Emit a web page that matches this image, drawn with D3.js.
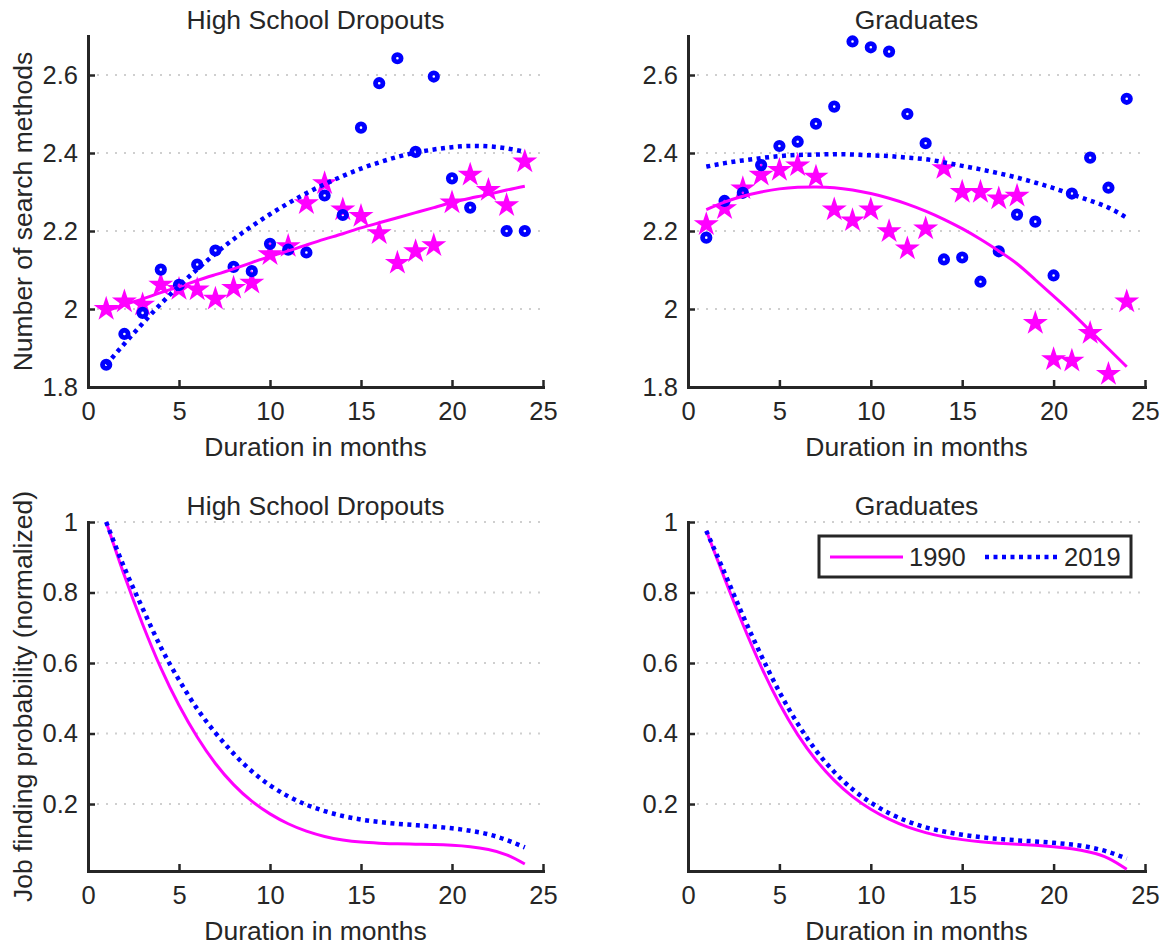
<!DOCTYPE html>
<html>
<head>
<meta charset="utf-8">
<script src="https://cdn.jsdelivr.net/npm/d3@7"></script>
<style>
  body { margin: 0; background: #fff; }
  text { font-family: "Liberation Sans", Arial, Helvetica, sans-serif; fill: #262626; }
</style>
</head>
<body>
<div id="container"></div>
<script>
let w = 1168;
let h = 949;

// months on the x axis
let months = [1,2,3,4,5,6,7,8,9,10,11,12,13,14,15,16,17,18,19,20,21,22,23,24];
let xTicks = [0,5,10,15,20,25];
let searchTicks = [1.8,2,2.2,2.4,2.6];
let jobTicks = [0.2,0.4,0.6,0.8,1];
let years = ["1990","2019"];

// number of search methods, high school dropouts
let dropStars1990 = [2.000,2.019,2.011,2.062,2.051,2.050,2.026,2.054,2.067,2.140,2.161,2.271,
                     2.322,2.255,2.238,2.194,2.118,2.148,2.163,2.273,2.344,2.305,2.266,2.378];
let dropCircles2019 = [1.857,1.936,1.990,2.101,2.062,2.114,2.150,2.108,2.097,2.167,2.152,2.145,
                       2.291,2.241,2.465,2.579,2.643,2.403,2.596,2.335,2.260,null,2.200,2.200];
let dropFit1990 = [1.995,2.011,2.026,2.042,2.057,2.073,2.088,2.103,2.119,2.135,2.149,2.164,
                   2.179,2.193,2.208,2.221,2.234,2.247,2.260,2.273,2.284,2.294,2.305,2.315];
let dropFit2019 = [1.857,1.911,1.963,2.013,2.059,2.102,2.142,2.179,2.212,2.243,2.271,2.297,
                   2.320,2.341,2.360,2.376,2.390,2.401,2.409,2.415,2.418,2.417,2.412,2.403];

// number of search methods, graduates
let gradStars1990 = [2.217,2.258,2.309,2.344,2.356,2.368,2.339,2.255,2.227,2.255,2.199,2.155,
                     2.206,2.361,2.300,2.300,2.283,2.290,1.964,1.871,1.867,1.938,1.833,2.019];
let gradCircles2019 = [2.183,2.277,2.298,2.369,2.418,2.429,2.475,2.519,2.686,2.671,2.660,2.500,
                       2.425,2.127,2.132,2.070,2.148,2.242,2.224,2.086,2.296,2.388,2.311,2.539];
let gradFit1990 = [2.255,2.274,2.289,2.300,2.308,2.312,2.313,2.311,2.305,2.296,2.284,2.269,
                   2.251,2.230,2.206,2.179,2.149,2.116,2.075,2.033,1.990,1.944,1.898,1.852];
let gradFit2019 = [2.365,2.374,2.381,2.387,2.392,2.395,2.396,2.397,2.396,2.394,2.392,2.388,
                   2.384,2.376,2.367,2.358,2.348,2.337,2.324,2.310,2.294,2.278,2.260,2.234];

// job finding probability (normalized)
let dropJob1990 = [1.000,0.848,0.710,0.586,0.480,0.390,0.315,0.255,0.208,0.172,0.144,0.123,
                   0.108,0.098,0.092,0.089,0.087,0.086,0.085,0.083,0.079,0.071,0.056,0.030];
let dropJob2019 = [1.000,0.870,0.755,0.645,0.552,0.470,0.402,0.343,0.293,0.253,0.222,0.198,
                   0.180,0.166,0.156,0.149,0.144,0.140,0.136,0.131,0.124,0.114,0.098,0.077];
let gradJob1990 = [0.975,0.840,0.710,0.590,0.485,0.397,0.325,0.267,0.221,0.185,0.157,0.135,
                   0.119,0.107,0.099,0.093,0.089,0.086,0.083,0.079,0.073,0.063,0.046,0.015];
let gradJob2019 = [0.975,0.856,0.735,0.622,0.518,0.428,0.352,0.291,0.242,0.204,0.174,0.151,
                   0.134,0.122,0.113,0.106,0.101,0.097,0.094,0.090,0.085,0.077,0.064,0.045];

let magenta = "#ff00ff";
let blue = "#0000ff";
let axisColor = "#262626";

let viz = d3.select("#container")
  .append("svg")
    .attr("width", w)
    .attr("height", h)
    .style("background-color", "white");

function fmt(d){
  return String(+d.toFixed(1));
}

function drawPanel(p){
  let xScale = d3.scaleLinear().domain([0,25]).range([p.left, p.right]);
  let yScale = d3.scaleLinear().domain(p.yDomain).range([p.bottom, p.top]);
  let g = viz.append("g");

  // dotted horizontal grid
  g.selectAll(".grid").data(p.yTicks.filter(function(t){ return t > p.yDomain[0] + 0.05; }))
    .enter().append("line")
      .attr("x1", p.left).attr("x2", p.right + 2)
      .attr("y1", function(d){ return yScale(d); })
      .attr("y2", function(d){ return yScale(d); })
      .attr("stroke", "#cfcfcf")
      .attr("stroke-width", 2)
      .attr("stroke-dasharray", "2,7");

  // x axis
  let xAxis = d3.axisBottom(xScale).tickValues(xTicks).tickSizeInner(-7).tickSizeOuter(0).tickPadding(15);
  let xg = g.append("g").attr("transform", "translate(0," + p.bottom + ")").call(xAxis);
  // y axis
  let yAxis = d3.axisLeft(yScale).tickValues(p.yTicks).tickFormat(fmt).tickSizeInner(-7).tickSizeOuter(0).tickPadding(10);
  let yg = g.append("g").attr("transform", "translate(" + p.left + ",0)").call(yAxis);

  [xg, yg].forEach(function(a){
    a.select(".domain").attr("stroke", axisColor).attr("stroke-width", 3).attr("stroke-linecap", "square");
    a.selectAll(".tick line").attr("stroke", axisColor).attr("stroke-width", 2.5);
    a.selectAll(".tick text").attr("fill", axisColor).style("font-size", "25.5px")
      .style("font-family", "'Liberation Sans', Arial, sans-serif");
  });

  // title and labels
  g.append("text").attr("x", (p.left + p.right) / 2).attr("y", p.top - 7)
    .attr("text-anchor", "middle").style("font-size", "26.5px").text(p.title);
  g.append("text").attr("x", (p.left + p.right) / 2).attr("y", p.bottom + 69)
    .attr("text-anchor", "middle").style("font-size", "26.5px").text("Duration in months");
  if(p.ylabel){
    g.append("text")
      .attr("transform", "translate(32," + (p.top + p.bottom) / 2 + ") rotate(-90)")
      .attr("text-anchor", "middle").style("font-size", "26.5px").text(p.ylabel);
  }

  // scatter points
  if(p.stars){
    g.selectAll(".star").data(p.stars.map(function(v, i){ return {x: months[i], y: v}; }))
      .enter().append("path")
        .attr("d", d3.symbol(d3.symbolStar).size(125))
        .attr("transform", function(d){ return "translate(" + xScale(d.x) + "," + yScale(d.y) + ")"; })
        .attr("fill", magenta)
        .attr("stroke", magenta)
        .attr("stroke-width", 1.6)
        .attr("stroke-linejoin", "miter");
  }
  if(p.circles){
    g.selectAll(".circ").data(p.circles.map(function(v, i){ return {x: months[i], y: v}; })
        .filter(function(d){ return d.y != null; }))
      .enter().append("circle")
        .attr("cx", function(d){ return xScale(d.x); })
        .attr("cy", function(d){ return yScale(d.y); })
        .attr("r", 3.7)
        .attr("fill", "none")
        .attr("stroke", blue)
        .attr("stroke-width", 4.8);
  }

  let line = d3.line()
    .x(function(d, i){ return xScale(months[i]); })
    .y(function(d){ return yScale(d); })
    .curve(d3.curveNatural);

  g.append("path").datum(p.line1990).attr("d", line)
    .attr("fill", "none").attr("stroke", magenta).attr("stroke-width", 3);
  g.append("path").datum(p.line2019).attr("d", line)
    .attr("fill", "none").attr("stroke", blue).attr("stroke-width", 4.5)
    .attr("stroke-dasharray", "4,4.5");
}

let topY = 36, topB = 387, botY = 522, botB = 871;
let leftL = 88, leftR = 543, rightL = 688, rightR = 1145;

drawPanel({left: leftL, right: leftR, top: topY, bottom: topB, yDomain: [1.8, 2.7], yTicks: searchTicks,
  title: "High School Dropouts", ylabel: "Number of search methods",
  stars: dropStars1990, circles: dropCircles2019, line1990: dropFit1990, line2019: dropFit2019});
drawPanel({left: rightL, right: rightR, top: topY, bottom: topB, yDomain: [1.8, 2.7], yTicks: searchTicks,
  title: "Graduates", ylabel: null,
  stars: gradStars1990, circles: gradCircles2019, line1990: gradFit1990, line2019: gradFit2019});
drawPanel({left: leftL, right: leftR, top: botY, bottom: botB, yDomain: [0.01, 1], yTicks: jobTicks,
  title: "High School Dropouts", ylabel: "Job finding probability (normalized)",
  line1990: dropJob1990, line2019: dropJob2019});
drawPanel({left: rightL, right: rightR, top: botY, bottom: botB, yDomain: [0.01, 1], yTicks: jobTicks,
  title: "Graduates", ylabel: null,
  line1990: gradJob1990, line2019: gradJob2019});

// legend in the lower right panel
let legend = viz.append("g").attr("class", "legend");
legend.append("rect").attr("x", 819).attr("y", 536).attr("width", 312).attr("height", 41)
  .attr("fill", "white").attr("stroke", axisColor).attr("stroke-width", 3);
let legendItems = [
  {label: years[0], color: magenta, dash: null, width: 3, x: 830},
  {label: years[1], color: blue, dash: "4,4.5", width: 4.5, x: 985}
];
legendItems.forEach(function(item){
  legend.append("line").attr("x1", item.x).attr("x2", item.x + 73).attr("y1", 557).attr("y2", 557)
    .attr("stroke", item.color).attr("stroke-width", item.width)
    .attr("stroke-dasharray", item.dash);
  legend.append("text").attr("x", item.x + 79).attr("y", 566).style("font-size", "25.5px").text(item.label);
});
</script>
</body>
</html>
